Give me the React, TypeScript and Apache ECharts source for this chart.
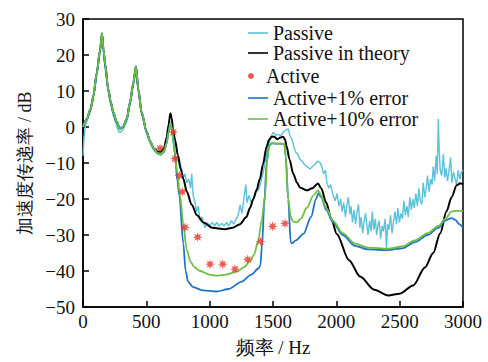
import React, { useEffect, useRef } from "react";
import * as echarts from "echarts";

// ---------- data (frequency Hz, dB) ----------
const lowCommon: number[][] = [
  [0, 0], [30, 2.2], [60, 5], [82, 8.6], [108, 14.9], [134, 21.2], [150, 26], [162, 21.5],
  [174, 17.6], [200, 10.4], [220, 6.8], [240, 4], [265, 1.5], [292, -0.5], [315, 0],
  [345, 2.2], [371, 6.8], [397, 12.2], [418, 16.8], [437, 10.4], [463, 4], [503, -1.4],
  [530, -4], [560, -6],
];

const passiveTheory: number[][] = [
  ...lowCommon,
  [590, -6.8], [615, -6.9], [640, -5.8], [660, -3], [675, 0.5], [690, 3.8], [700, 2.5],
  [712, -1], [726, -3.5], [750, -8], [770, -11.5], [792, -14.4], [820, -18], [858, -21.6],
  [900, -24.5], [950, -26.5], [1020, -28], [1120, -28.4], [1180, -28], [1240, -27],
  [1290, -25], [1318, -22.5], [1345, -20], [1370, -17.5], [1397, -14.4], [1420, -10.5],
  [1450, -5.4], [1470, -3.5], [1490, -2.7], [1510, -2.7], [1535, -3.4], [1560, -2.9],
  [1580, -2.7], [1595, -3.5], [1608, -5.4], [1630, -9], [1660, -13], [1690, -15.5],
  [1713, -16.8], [1766, -17.6], [1810, -17], [1855, -15.7], [1880, -17], [1920, -21],
  [1960, -25.5], [2003, -29.7], [2100, -37], [2187, -41.5], [2300, -45.2], [2410, -46.8],
  [2500, -46.3], [2607, -44], [2700, -39], [2765, -35], [2820, -29.5], [2870, -23.4],
  [2910, -19.5], [2950, -16.2], [2980, -15.6], [3000, -16],
];

const activeLow: number[][] = [
  ...lowCommon,
  [590, -7.3], [615, -7.6], [640, -6.8], [660, -4.5], [675, -1.5], [690, 1], [700, 0],
  [712, -3.5], [726, -7.6],
];

const active10: number[][] = [
  ...activeLow,
  [745, -13], [766, -19], [792, -27], [818, -34], [850, -37.5], [880, -39], [924, -40],
  [1000, -41], [1055, -41.3], [1130, -41], [1213, -40.2], [1270, -39], [1318, -37.3],
  [1350, -35.5], [1384, -31.5], [1410, -26], [1437, -19], [1455, -9], [1470, -5.2],
  [1490, -4.5], [1520, -4.6], [1560, -4.6], [1590, -4.8], [1600, -8], [1620, -20],
  [1640, -25], [1660, -26.3], [1687, -26.5], [1720, -25.5], [1766, -22.5], [1820, -19],
  [1855, -17.6], [1880, -19], [1920, -22.5], [1974, -26], [2050, -29.5], [2147, -32.4],
  [2250, -33.5], [2408, -33.8], [2520, -33.2], [2621, -31.5], [2720, -29.5], [2805, -27.5],
  [2860, -25.5], [2910, -23.5], [2950, -23.3], [3000, -23.3],
];

const active1: number[][] = [
  ...activeLow,
  [745, -15], [760, -19], [792, -32.4], [810, -40], [830, -43], [870, -44.5], [950, -45.4],
  [1055, -45.7], [1150, -45], [1250, -43], [1330, -41], [1384, -39.3], [1400, -38.5],
  [1415, -32], [1430, -22], [1450, -9.9], [1470, -5.2], [1490, -4.5], [1520, -4.6],
  [1560, -4.6], [1590, -4.8], [1600, -8], [1620, -20], [1640, -32], [1650, -32.3],
  [1680, -31.5], [1740, -29.7], [1800, -25], [1840, -20], [1858, -18.4], [1880, -19.5],
  [1920, -23], [1974, -26.5], [2050, -30], [2147, -33], [2250, -34], [2408, -34.2],
  [2520, -33.7], [2621, -32], [2720, -30], [2805, -28], [2860, -26], [2910, -25.3],
  [2940, -25.8], [2970, -27], [3000, -28],
];

const passive: number[][] = [
  [0, -8], [8, -3], [20, 0.5], [40, 2.5], [60, 4.5], [82, 8], [108, 14], [134, 20.5],
  [148, 25.3], [162, 20.5], [174, 16.5], [200, 9.5], [220, 6], [240, 3], [265, 0.5],
  [280, -1.2], [292, -1.5], [305, -1.2], [315, -0.8], [345, 1.5], [371, 6], [397, 11.5],
  [416, 16], [437, 9.8], [463, 3.5], [503, -2], [530, -4.5], [560, -6.5], [590, -7.5],
  [615, -7.8], [640, -7], [660, -4.5], [675, -1.5], [690, 0.5], [700, -0.5], [712, -4],
  [726, -7.5], [740, -9], [755, -8], [766, -10], [780, -12], [792, -14], [805, -13],
  [820, -15.5], [835, -14.5], [850, -17], [858, -13], [870, -19], [885, -21], [897, -23.5],
  [910, -22], [924, -26], [940, -25], [963, -28], [980, -26.5], [1000, -27.5], [1020, -26.5],
  [1040, -27.5], [1055, -26.5], [1075, -27.5], [1095, -26.8], [1115, -27.5], [1134, -26.5],
  [1150, -27.5], [1170, -26], [1190, -27], [1210, -25.5], [1226, -24.5], [1240, -21.6],
  [1255, -24], [1270, -20], [1285, -16], [1295, -21], [1310, -19], [1330, -21], [1345, -20],
  [1365, -18], [1385, -17.5], [1400, -16], [1420, -13], [1440, -9.5], [1460, -5.5],
  [1480, -3], [1503, -1.4], [1520, -2.3], [1540, -2], [1560, -2.5], [1580, -1.5],
  [1600, -0.8], [1621, -0.5], [1635, -2.5], [1650, -3.5], [1665, -5.5], [1680, -7],
  [1695, -7.5], [1713, -9], [1730, -9.5], [1750, -10.5], [1770, -11], [1792, -11.7],
  [1810, -11], [1830, -10.5], [1850, -9.5], [1871, -9.9], [1885, -11], [1900, -13],
  [1915, -12], [1924, -15.3], [1940, -17], [1955, -16], [1974, -19], [1990, -20.5],
  [2005, -18.5], [2020, -22], [2035, -20], [2045, -23.5], [2058, -21], [2072, -25],
  [2080, -22.5], [2095, -19.5], [2108, -24.3], [2116, -22], [2128, -26.5], [2140, -23],
  [2152, -27], [2162, -24], [2175, -21.5], [2186, -28], [2195, -25], [2208, -29.5],
  [2218, -26.5], [2230, -24], [2242, -27.5], [2250, -30], [2263, -26], [2275, -29],
  [2284, -23.5], [2296, -28.5], [2308, -25.5], [2318, -30], [2330, -27], [2338, -26],
  [2350, -31], [2362, -27.5], [2372, -29], [2385, -25.5], [2396, -33.5], [2405, -27],
  [2415, -28.5], [2428, -24.5], [2440, -29.5], [2452, -26], [2463, -23.5], [2475, -27],
  [2486, -22.5], [2498, -26.5], [2510, -24], [2522, -25.5], [2533, -20.5], [2545, -24.5],
  [2558, -22], [2568, -25], [2580, -19.5], [2592, -23], [2604, -20], [2615, -22.5],
  [2628, -18.5], [2640, -22], [2652, -17], [2662, -20.5], [2675, -21.5], [2686, -15.5],
  [2698, -19.5], [2710, -17], [2720, -13.5], [2732, -18], [2744, -14.5], [2755, -16],
  [2765, -11], [2776, -15], [2788, -8], [2797, -13], [2805, 2.2], [2812, -6], [2820, -12],
  [2832, -13.5], [2845, -7.5], [2856, -14], [2866, -11.5], [2878, -15], [2890, -12],
  [2902, -8.5], [2912, -15.5], [2925, -12.5], [2938, -14.5], [2950, -16], [2962, -12],
  [2975, -14.5], [2988, -12.5], [3000, -12],
];

const activeFreq: number[] = [608, 713, 726, 760, 784, 805, 905, 1003, 1103, 1200, 1300, 1403, 1497, 1595];
const activeVal: number[] = [-5.9, -1.4, -8.8, -13.5, -18, -27.9, -30.6, -38.1, -38.1, -39.5, -36.8, -31.8, -27.6, -26.8];

const seriesNames = ["Passive", "Passive in theory", "Active", "Active+1% error", "Active+10% error"];
const xTicks = { min: 0, max: 3000, interval: 500 };
const yTicks = { min: -50, max: 30, interval: 10 };

// ---------- styles ----------
const serif = "Liberation Serif";
const colors = {
  passive: "#5bc2d9",
  theory: "#000000",
  active: "#e8352c",
  a1: "#1f73c8",
  a10: "#6cbf45",
};

function starPath(): string {
  const pts: string[] = [];
  const n = 8;
  for (let i = 0; i < n * 2; i++) {
    const r = i % 2 === 0 ? 10 : 4.5;
    const a = (Math.PI * i) / n - Math.PI / 2;
    pts.push(`${(10 + r * Math.cos(a)).toFixed(2)},${(10 + r * Math.sin(a)).toFixed(2)}`);
  }
  return "path://M" + pts.join(" L") + " Z";
}

export default function App() {
  const ref = useRef<HTMLDivElement>(null);
  useEffect(() => {
    const chart = echarts.init(ref.current!, null, { renderer: "svg" });
    const legendCenters = [33, 53, 76, 98, 119];
    const option: any = {
      animation: false,
      backgroundColor: "#fff",
      textStyle: { fontFamily: serif },
      grid: {
        left: 83, right: 25, top: 19, bottom: 47,
        show: true, borderColor: "#000", borderWidth: 1.5, backgroundColor: "transparent",
      },
      legend: seriesNames.map((n, i) => ({
        data: [{ name: n, icon: n === "Active" ? "circle" : "rect" }],
        left: 248,
        top: legendCenters[i] - 11,
        itemWidth: 20,
        itemHeight: n === "Active" ? 6 : 1.6,
        padding: 0,
        textStyle: { fontFamily: serif, fontSize: 20, color: "#111", lineHeight: 22 },
        selectedMode: false,
      })),
      xAxis: {
        type: "value",
        min: xTicks.min, max: xTicks.max, interval: xTicks.interval,
        name: "频率 / Hz",
        nameLocation: "middle",
        nameGap: 31,
        nameTextStyle: { fontFamily: serif, fontSize: 19, color: "#111" },
        axisLine: { onZero: false, lineStyle: { color: "#000", width: 1.5 } },
        axisTick: { inside: true, length: 6, lineStyle: { color: "#000", width: 1.5 } },
        axisLabel: {
          fontFamily: serif, fontSize: 19, color: "#111", margin: 5,
          formatter: (v: number) => String(v),
        },
        splitLine: { show: false },
      },
      yAxis: {
        type: "value",
        min: yTicks.min, max: yTicks.max, interval: yTicks.interval,
        name: "加速度传递率 / dB",
        nameLocation: "middle",
        nameGap: 48,
        nameTextStyle: { fontFamily: serif, fontSize: 18, color: "#111" },
        axisLine: { onZero: false, lineStyle: { color: "#000", width: 1.5 } },
        axisTick: { inside: true, length: 6, lineStyle: { color: "#000", width: 1.5 } },
        axisLabel: {
          fontFamily: serif, fontSize: 19, color: "#111", margin: 8,
          formatter: (v: number) => (v < 0 ? "\u2212" + Math.abs(v) : String(v)),
        },
        splitLine: { show: false },
      },
      series: [
        {
          name: "Passive", type: "line", data: passive, symbol: "none",
          lineStyle: { color: colors.passive, width: 1.4 }, itemStyle: { color: colors.passive },
          z: 1,
        },
        {
          name: "Passive in theory", type: "line", data: passiveTheory, symbol: "none",
          smooth: 0.3, smoothMonotone: "x",
          lineStyle: { color: colors.theory, width: 2 }, itemStyle: { color: colors.theory },
          z: 2,
        },
        {
          name: "Active+1% error", type: "line", data: active1, symbol: "none",
          smooth: 0.3, smoothMonotone: "x",
          lineStyle: { color: colors.a1, width: 1.8 }, itemStyle: { color: colors.a1 },
          z: 3,
        },
        {
          name: "Active+10% error", type: "line", data: active10, symbol: "none",
          smooth: 0.3, smoothMonotone: "x",
          lineStyle: { color: colors.a10, width: 1.8 }, itemStyle: { color: colors.a10 },
          z: 4,
        },
        {
          name: "Active", type: "scatter",
          data: activeFreq.map((f, i) => [f, activeVal[i]]),
          symbol: starPath(), symbolSize: 10,
          itemStyle: { color: colors.active },
          z: 5,
        },
      ],
    };
    chart.setOption(option);
    return () => chart.dispose();
  }, []);
  return (
    <div
      ref={ref}
      style={{ position: "fixed", left: 0, top: 0, width: 488, height: 362, background: "#fff" }}
    />
  );
}
